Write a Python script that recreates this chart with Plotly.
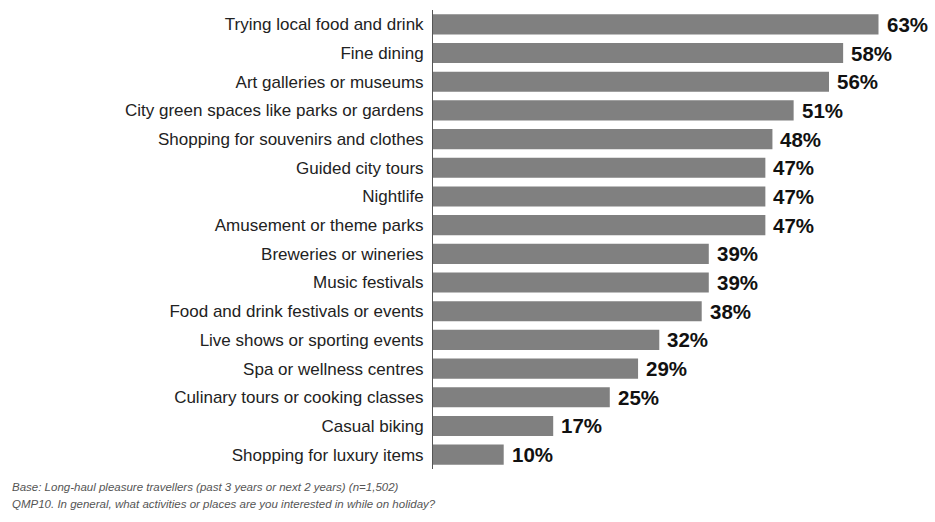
import plotly.graph_objects as go

# Survey results: share of long-haul pleasure travellers interested in each activity
activities = [
    "Trying local food and drink",
    "Fine dining",
    "Art galleries or museums",
    "City green spaces like parks or gardens",
    "Shopping for souvenirs and clothes",
    "Guided city tours",
    "Nightlife",
    "Amusement or theme parks",
    "Breweries or wineries",
    "Music festivals",
    "Food and drink festivals or events",
    "Live shows or sporting events",
    "Spa or wellness centres",
    "Culinary tours or cooking classes",
    "Casual biking",
    "Shopping for luxury items",
]
percentages = [63, 58, 56, 51, 48, 47, 47, 47, 39, 39, 38, 32, 29, 25, 17, 10]

footnotes = [
    "Base: Long-haul pleasure travellers (past 3 years or next 2 years) (n=1,502)",
    "QMP10. In general, what activities or places are you interested in while on holiday?",
]

FONT = "Liberation Sans, Arial, sans-serif"

W, H = 935, 522
ML, MR, MT, MB = 433, 7, 10, 53

fig = go.Figure(
    go.Bar(
        x=percentages,
        y=activities,
        orientation="h",
        marker=dict(color="#808080", line=dict(width=0)),
        hoverinfo="skip",
    )
)

# Bold value labels just past the end of each bar
for name, val in zip(activities, percentages):
    fig.add_annotation(
        x=val, y=name, xref="x", yref="y",
        text=f"<b>{val}%</b>", showarrow=False,
        xanchor="left", xshift=6,
        font=dict(family=FONT, size=20.5, color="#111111"),
    )

# Footnotes below the chart (pixel positions converted to paper coordinates)
plot_w = W - ML - MR
plot_h = H - MT - MB
for i, note in enumerate(footnotes):
    y_px = 487 + 17 * i
    fig.add_annotation(
        x=(10 - ML) / plot_w, xref="paper", xanchor="left",
        y=(H - MB - y_px) / plot_h, yref="paper", yanchor="middle",
        text=f"<i>{note}</i>", showarrow=False,
        font=dict(family=FONT, size=11.5, color="#555555"),
    )

fig.update_layout(
    width=W, height=H,
    margin=dict(l=ML, r=MR, t=MT, b=MB),
    paper_bgcolor="white", plot_bgcolor="white",
    bargap=0.3,
    showlegend=False,
    xaxis=dict(range=[0, 70], visible=False, fixedrange=True),
    yaxis=dict(
        autorange="reversed",
        showline=True, linecolor="#555555", linewidth=1,
        ticks="", showgrid=False, zeroline=False,
        ticklabelstandoff=5,
        tickfont=dict(family=FONT, size=17, color="#222222"),
        fixedrange=True,
    ),
)

fig.write_html("out.html")
